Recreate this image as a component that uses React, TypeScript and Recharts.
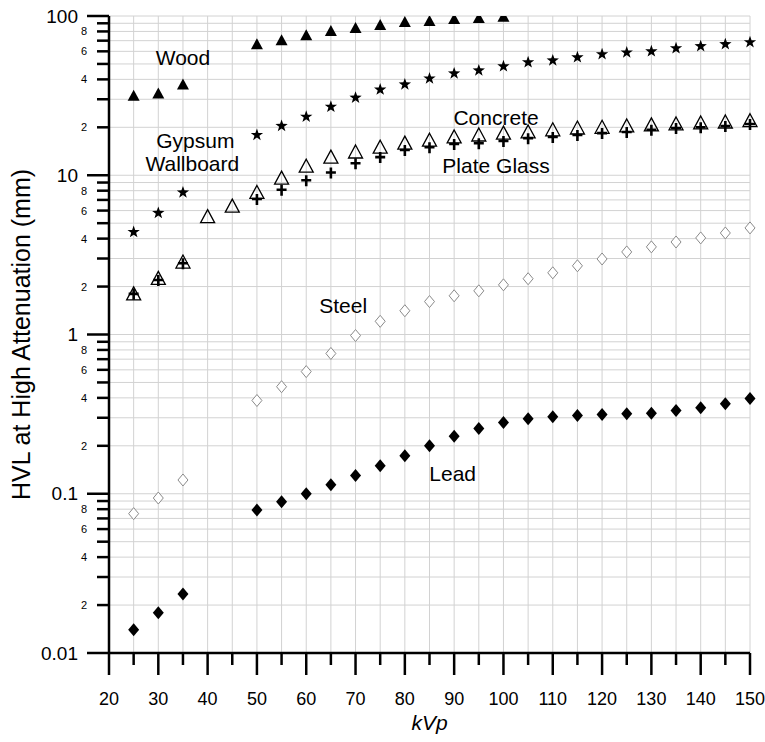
import { ScatterChart, Scatter, XAxis, YAxis, CartesianGrid, ReferenceDot } from 'recharts';

// kVp positions
const kvpWood = [25, 30, 35, 50, 55, 60, 65, 70, 75, 80, 85, 90, 95, 100];
const kvpFull = [25, 30, 35, 50, 55, 60, 65, 70, 75, 80, 85, 90, 95, 100, 105, 110, 115, 120, 125, 130, 135, 140, 145, 150];
const kvpConcrete = [25, 30, 35, 40, 45, 50, 55, 60, 65, 70, 75, 80, 85, 90, 95, 100, 105, 110, 115, 120, 125, 130, 135, 140, 145, 150];

// HVL values (mm)
const wood = [31.6, 32.6, 37.2, 66.5, 70.5, 75.8, 80.4, 84, 87.7, 91.6, 93, 95.7, 97, 99];
const gypsum = [4.4, 5.8, 7.8, 17.9, 20.4, 23.3, 26.9, 30.7, 34.5, 37.2, 40.5, 43.6, 45.5, 48.3, 51.2, 52.6, 55, 57.5, 59, 60, 62.7, 64.6, 66.5, 68.4];
const concrete = [1.8, 2.25, 2.85, 5.5, 6.4, 7.8, 9.6, 11.4, 13, 14, 15, 15.9, 16.6, 17.4, 17.9, 18.4, 18.7, 19.3, 19.8, 20, 20.4, 20.7, 21, 21.3, 21.6, 22];
const plateGlass = [1.8, 2.2, 2.8, 7.1, 8.1, 9.3, 10.4, 11.9, 13, 14.4, 15, 15.7, 15.9, 16.4, 17.1, 17.4, 17.9, 18.4, 18.7, 19.3, 19.8, 20, 20.4, 21];
const steel = [0.075, 0.094, 0.122, 0.385, 0.47, 0.585, 0.76, 0.985, 1.21, 1.41, 1.61, 1.75, 1.88, 2.05, 2.24, 2.44, 2.7, 2.98, 3.3, 3.55, 3.81, 4.04, 4.34, 4.67];
const lead = [0.014, 0.0179, 0.0235, 0.079, 0.089, 0.1, 0.114, 0.13, 0.15, 0.173, 0.2, 0.23, 0.257, 0.28, 0.296, 0.305, 0.31, 0.314, 0.318, 0.32, 0.333, 0.347, 0.368, 0.396];

// axis ticks
const xTicks = [20, 25, 30, 35, 40, 45, 50, 55, 60, 65, 70, 75, 80, 85, 90, 95, 100, 105, 110, 115, 120, 125, 130, 135, 140, 145, 150];
const decades = [0.01, 0.1, 1, 10];
const mults = [1, 2, 3, 4, 5, 6, 7, 8, 9];
const yTicks = [...decades.flatMap((d) => mults.map((m) => Number((d * m).toPrecision(3)))), 100];

const toRows = (xs: number[], ys: number[]) => xs.map((kvp, i) => ({ kvp, hvl: ys[i] }));

const FONT = 'Arial, "Liberation Sans", sans-serif';

function YTick(props: any) {
  const { x, y, payload } = props;
  const v = payload.value;
  const lg = Math.log10(v);
  const major = Math.abs(lg - Math.round(lg)) < 1e-6;
  const lead = Math.round(v / Math.pow(10, Math.floor(lg + 1e-9)));
  return (
    <g>
      <line x1={x - (major ? 22 : 12)} x2={x} y1={y} y2={y} stroke="#000" strokeWidth={2.5} />
      {major ? (
        <text x={x - 31} y={y} textAnchor="end" dominantBaseline="central" fontSize={19} fontFamily={FONT} fill="#000">
          {String(v)}
        </text>
      ) : lead % 2 === 0 ? (
        <text x={x - 25} y={y} textAnchor="middle" dominantBaseline="central" fontSize={11} fontFamily={FONT} fill="#000">
          {lead}
        </text>
      ) : null}
    </g>
  );
}

function XTick(props: any) {
  const { x, y, payload } = props;
  const major = payload.value % 10 === 0;
  return (
    <g>
      <line x1={x} x2={x} y1={y} y2={y + (major ? 22 : 12)} stroke="#000" strokeWidth={2.5} />
      {major && (
        <text x={x} y={y + 46} textAnchor="middle" dominantBaseline="central" fontSize={18} fontFamily={FONT} fill="#000">
          {payload.value}
        </text>
      )}
    </g>
  );
}

const triFilled = (p: any) => (
  <path d={`M${p.cx},${p.cy - 6}L${p.cx + 6},${p.cy + 5}L${p.cx - 6},${p.cy + 5}Z`} fill="#000" />
);
const triOpen = (p: any) => (
  <path d={`M${p.cx},${p.cy - 7}L${p.cx + 7},${p.cy + 6}L${p.cx - 7},${p.cy + 6}Z`} fill="none" stroke="#000" strokeWidth={1.3} />
);
const star = (p: any) => {
  const pts: string[] = [];
  for (let i = 0; i < 10; i++) {
    const r = i % 2 === 0 ? 6.5 : 2.6;
    const a = -Math.PI / 2 + (i * Math.PI) / 5;
    pts.push(`${p.cx + r * Math.cos(a)},${p.cy + r * Math.sin(a)}`);
  }
  return <polygon points={pts.join(' ')} fill="#000" />;
};
const plus = (p: any) => (
  <path d={`M${p.cx - 5},${p.cy}H${p.cx + 5}M${p.cx},${p.cy - 5}V${p.cy + 6}`} stroke="#000" strokeWidth={2.6} fill="none" />
);
const diamondOpen = (p: any) => (
  <path d={`M${p.cx},${p.cy - 6}L${p.cx + 5},${p.cy}L${p.cx},${p.cy + 6}L${p.cx - 5},${p.cy}Z`} fill="#fff" stroke="#8a8a8a" strokeWidth={1} />
);
const diamondFilled = (p: any) => (
  <path d={`M${p.cx},${p.cy - 6.5}L${p.cx + 5.5},${p.cy}L${p.cx},${p.cy + 6.5}L${p.cx - 5.5},${p.cy}Z`} fill="#000" />
);

const labelStyle = { fontSize: 21, fill: '#000', fontFamily: FONT };

export default function App() {
  return (
    <div style={{ position: 'absolute', left: 0, top: 0, background: '#fff' }}>
      <ScatterChart width={765} height={742} margin={{ top: 16, right: 15, bottom: 0, left: 0 }}>
        <CartesianGrid stroke="#d2d2d2" strokeWidth={1} />
        <XAxis
          type="number"
          dataKey="kvp"
          domain={[20, 150]}
          ticks={xTicks}
          interval={0}
          tick={<XTick />}
          tickLine={false}
          tickSize={0}
          tickMargin={0}
          axisLine={{ stroke: '#000', strokeWidth: 2.5 }}
          height={89}
          label={{ value: 'kVp', position: 'insideBottom', offset: 12, fontSize: 21, fontStyle: 'italic', fill: '#000', fontFamily: FONT }}
        />
        <YAxis
          type="number"
          dataKey="hvl"
          scale="log"
          domain={[0.01, 100]}
          allowDataOverflow
          ticks={yTicks}
          interval={0}
          tick={<YTick />}
          tickLine={false}
          tickSize={0}
          tickMargin={0}
          axisLine={{ stroke: '#000', strokeWidth: 2.5 }}
          width={109}
          label={{ value: 'HVL at High Attenuation (mm)', angle: -90, position: 'insideLeft', offset: 21, fontSize: 25, fill: '#000', fontFamily: FONT, style: { textAnchor: 'middle' } }}
        />
        <Scatter data={toRows(kvpWood, wood)} shape={triFilled} isAnimationActive={false} />
        <Scatter data={toRows(kvpFull, gypsum)} shape={star} isAnimationActive={false} />
        <Scatter data={toRows(kvpConcrete, concrete)} shape={triOpen} isAnimationActive={false} />
        <Scatter data={toRows(kvpFull, plateGlass)} shape={plus} isAnimationActive={false} />
        <Scatter data={toRows(kvpFull, steel)} shape={diamondOpen} isAnimationActive={false} />
        <Scatter data={toRows(kvpFull, lead)} shape={diamondFilled} isAnimationActive={false} />
        <ReferenceDot x={35} y={55} r={0} fill="none" stroke="none" label={{ value: 'Wood', position: 'center', ...labelStyle }} />
        <ReferenceDot x={37.5} y={16.6} r={0} fill="none" stroke="none" label={{ value: 'Gypsum', position: 'center', ...labelStyle }} />
        <ReferenceDot x={36.9} y={11.8} r={0} fill="none" stroke="none" label={{ value: 'Wallboard', position: 'center', ...labelStyle }} />
        <ReferenceDot x={98.5} y={23.2} r={0} fill="none" stroke="none" label={{ value: 'Concrete', position: 'center', ...labelStyle }} />
        <ReferenceDot x={98.5} y={11.5} r={0} fill="none" stroke="none" label={{ value: 'Plate Glass', position: 'center', ...labelStyle }} />
        <ReferenceDot x={67.5} y={1.52} r={0} fill="none" stroke="none" label={{ value: 'Steel', position: 'center', ...labelStyle }} />
        <ReferenceDot x={89.7} y={0.133} r={0} fill="none" stroke="none" label={{ value: 'Lead', position: 'center', ...labelStyle }} />
      </ScatterChart>
    </div>
  );
}
